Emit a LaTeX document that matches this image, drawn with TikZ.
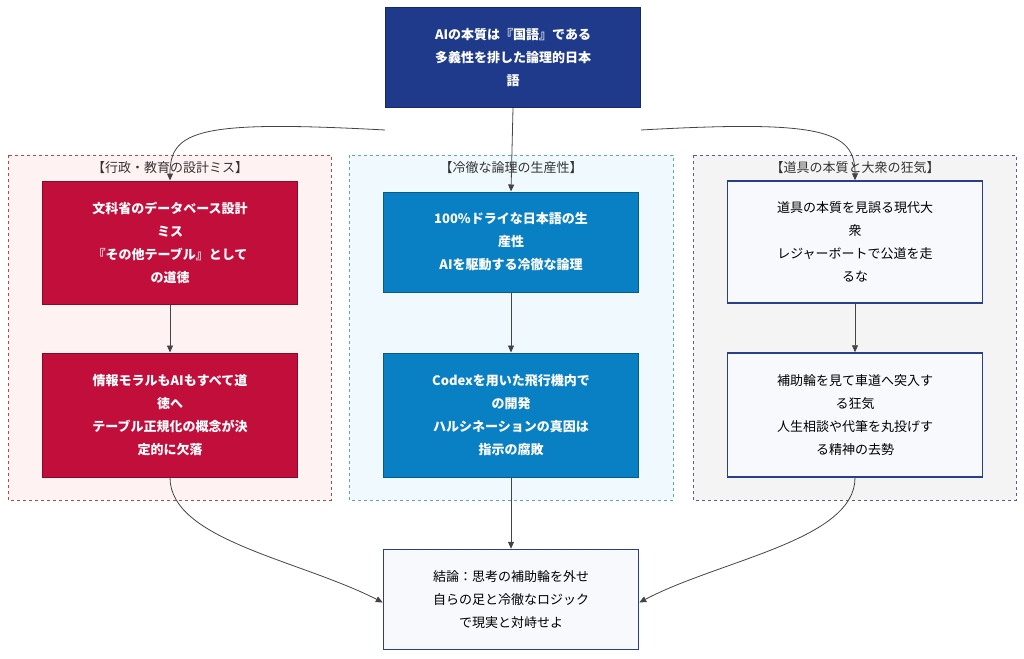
\documentclass[tikz,border=0pt]{standalone}
\usepackage{fontspec}
\setmainfont{Noto Sans CJK JP}
\usetikzlibrary{positioning,arrows.meta}
\definecolor{topblue}{HTML}{1F3A8A}
\definecolor{redfill}{HTML}{C10E3A}
\definecolor{bluefill}{HTML}{0A80C4}
\definecolor{palefill}{HTML}{F7F9FC}
\definecolor{paleedge}{HTML}{2A3F8A}
\definecolor{linegray}{HTML}{444444}
\tikzset{
  box/.style={draw, minimum width=255pt, minimum height=100pt, align=center,
    font=\fontsize{13}{23}\selectfont, text width=245pt, line width=1pt},
  hot/.style={box, fill=redfill, draw=redfill!70!black, text=white, font=\fontsize{13}{23}\selectfont\bfseries},
  cool/.style={box, fill=bluefill, draw=bluefill!70!black, text=white, font=\fontsize{13}{23}\selectfont\bfseries},
  calm/.style={box, fill=palefill, draw=paleedge, line width=1.5pt},
  group/.style={dashed, line width=0.7pt},
  flow/.style={-{Triangle[length=7pt,width=6pt]}, draw=linegray, line width=0.8pt},
  grouplabel/.style={font=\fontsize{13}{15}\selectfont, text=black!80}
}
\begin{document}
\begin{tikzpicture}[x=1pt,y=-1pt]
\useasboundingbox (0,0) rectangle (1024,658);
% groups
\draw[group, fill=red!5, draw=red!45!gray] (8,155) rectangle (331,500);
\draw[group, fill=cyan!6, draw=cyan!60!gray] (349,155) rectangle (673,500);
\draw[group, fill=blue!4!gray!8, draw=blue!30!gray] (693,155) rectangle (1016,500);
\node[grouplabel] (gA) at (170,168) {【行政・教育の設計ミス】};
\node[grouplabel] (gB) at (511,168) {【冷徹な論理の生産性】};
\node[grouplabel] (gC) at (855,168) {【道具の本質と大衆の狂気】};
% nodes
\node[box, fill=topblue, draw=topblue!70!black, text=white, font=\fontsize{13}{23}\selectfont\bfseries]
  (core) at (513,57.5) {AIの本質は『国語』である\\多義性を排した論理的日本\\語};
\node[hot, minimum height=123pt] (moral) at (170,242.5) {文科省のデータベース設計\\ミス\\『その他テーブル』として\\の道徳};
\node[hot, minimum height=124pt] (info) at (170,415) {情報モラルもAIもすべて道\\徳へ\\テーブル正規化の概念が決\\定的に欠落};
\node[cool] (dry) at (511,242) {100\%ドライな日本語の生\\産性\\AIを駆動する冷徹な論理};
\node[cool, minimum height=124pt] (codex) at (511,415) {Codexを用いた飛行機内で\\の開発\\ハルシネーションの真因は\\指示の腐敗};
\node[calm, minimum height=122pt] (tool) at (855,242) {道具の本質を見誤る現代大\\衆\\レジャーボートで公道を走\\るな};
\node[calm, minimum height=124pt] (wheel) at (855,415) {補助輪を見て車道へ突入す\\る狂気\\人生相談や代筆を丸投げす\\る精神の去勢};
\node[calm] (goal) at (511,599.5) {結論：思考の補助輪を外せ\\自らの足と冷徹なロジック\\で現実と対峙せよ};
% connectors
\draw[flow] ([yshift=-22pt]core.south west) .. controls (200,120) and (170,130) .. (moral.north);
\draw[flow] (core.south) -- (dry.north);
\draw[flow] ([yshift=-22pt]core.south east) .. controls (820,120) and (855,130) .. (tool.north);
\draw[flow] (moral) -- (info);
\draw[flow] (dry) -- (codex);
\draw[flow] (tool) -- (wheel);
\draw[flow] (info.south) .. controls (170,540) and (300,560) .. ([yshift=-3pt]goal.west);
\draw[flow] (codex) -- (goal);
\draw[flow] (wheel.south) .. controls (855,540) and (720,560) .. ([yshift=-3pt]goal.east);
\end{tikzpicture}
\end{document}
